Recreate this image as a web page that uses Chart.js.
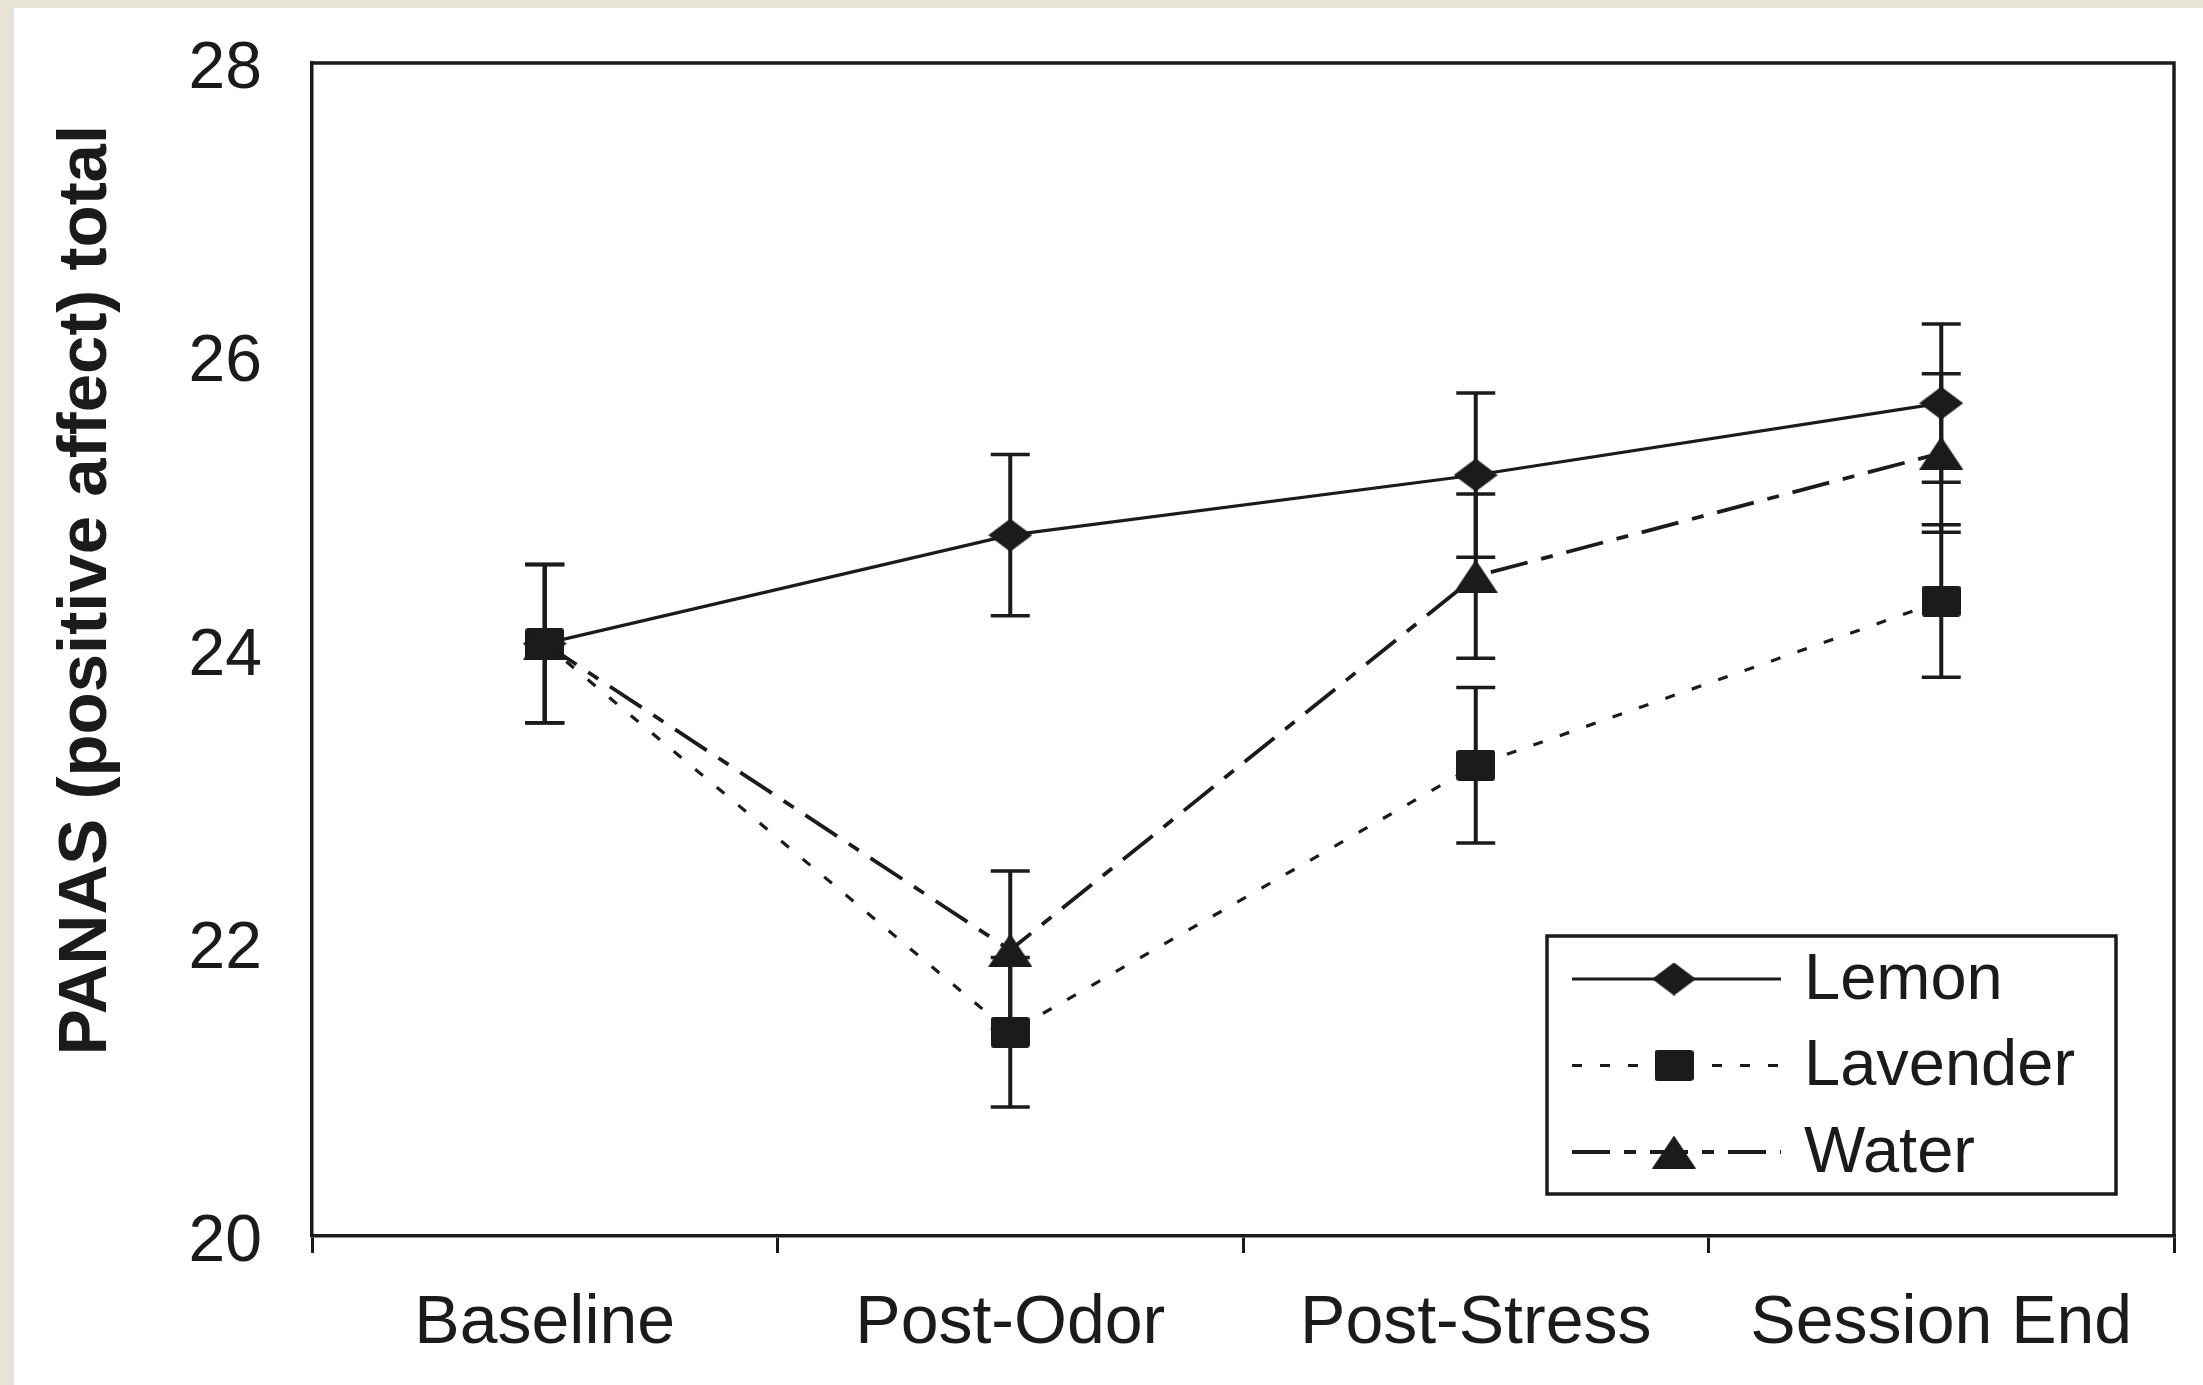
<!DOCTYPE html>
<html>
<head>
<meta charset="utf-8">
<title>PANAS positive affect</title>
<script src="https://cdn.jsdelivr.net/npm/chart.js@4"></script>
<style>
    html, body { margin: 0; padding: 0; }
    body { width: 2203px; height: 1385px; background: #e7e3d7; position: relative; overflow: hidden; }
    #sheet { position: absolute; left: 14px; top: 8px; width: 2189px; height: 1377px; background: #fff; }
    #chart { display: block; }
</style>
</head>
<body>
<div id="sheet"><canvas id="chart" width="2189" height="1377"></canvas></div>
<script>
const categories = ['Baseline', 'Post-Odor', 'Post-Stress', 'Session End'];

const lemonMeans = [24.04, 24.78, 25.19, 25.68];
const lemonErr = [0.54, 0.55, 0.56, 0.54];

const lavenderMeans = [24.04, 21.39, 23.21, 24.33];
const lavenderErr = [0.54, 0.51, 0.53, 0.52];

const waterMeans = [24.04, 21.95, 24.50, 25.34];
const waterErr = [0.54, 0.54, 0.56, 0.54];

const yTicks = [20, 22, 24, 26, 28];
const yTitle = 'PANAS (positive affect) total';

const ink = '#1b1b1b';
const font = "'Liberation Sans', Arial, sans-serif";

// little filled markers, a bit wider than tall like the original plot symbols
function makeMarker(w, h, shape) {
    const c = document.createElement('canvas');
    c.width = w;
    c.height = h;
    const g = c.getContext('2d');
    g.fillStyle = ink;
    g.beginPath();
    shape(g, w, h);
    g.fill();
    return c;
}

const diamond = makeMarker(44, 33, (g, w, h) => {
    g.moveTo(0, h / 2); g.lineTo(w / 2, 0); g.lineTo(w, h / 2); g.lineTo(w / 2, h); g.closePath();
});
const square = makeMarker(39, 31, (g, w, h) => {
    g.roundRect(0, 0, w, h, 3);
});
const triangle = makeMarker(44, 33, (g, w, h) => {
    g.moveTo(w / 2, 0); g.lineTo(w, h); g.lineTo(0, h); g.closePath();
});

function series(label, data, err, marker, dash, width) {
    return {
        label: label,
        data: data,
        errors: err,
        borderColor: ink,
        backgroundColor: ink,
        borderWidth: width,
        borderDash: dash,
        pointStyle: marker,
        pointRadius: 20,
        pointHoverRadius: 20,
        tension: 0,
        clip: false
    };
}

// error bars, drawn from the y scale
const errorBars = {
    id: 'errorBars',
    beforeDatasetsDraw(chart) {
        const ctx = chart.ctx;
        const y = chart.scales.y;
        ctx.save();
        ctx.strokeStyle = ink;
        ctx.lineCap = 'butt';
        chart.data.datasets.forEach((ds, di) => {
            const meta = chart.getDatasetMeta(di);
            meta.data.forEach((pt, i) => {
                const top = y.getPixelForValue(ds.data[i] + ds.errors[i]);
                const bot = y.getPixelForValue(ds.data[i] - ds.errors[i]);
                ctx.lineWidth = 4;
                ctx.beginPath();
                ctx.moveTo(pt.x, top);
                ctx.lineTo(pt.x, bot);
                ctx.stroke();
                ctx.lineWidth = 3.5;
                ctx.beginPath();
                ctx.moveTo(pt.x - 19.5, top);
                ctx.lineTo(pt.x + 19.5, top);
                ctx.moveTo(pt.x - 19.5, bot);
                ctx.lineTo(pt.x + 19.5, bot);
                ctx.stroke();
            });
        });
        ctx.restore();
    }
};

// top and right sides of the plot frame
const frame = {
    id: 'frame',
    afterDraw(chart) {
        const {ctx, chartArea: a} = chart;
        ctx.save();
        ctx.strokeStyle = ink;
        ctx.lineWidth = 3.5;
        ctx.beginPath();
        ctx.moveTo(a.left, a.top);
        ctx.lineTo(a.right, a.top);
        ctx.lineTo(a.right, a.bottom);
        ctx.stroke();
        ctx.restore();
    }
};

// rotated axis title, sitting a little above centre
const axisTitle = {
    id: 'axisTitle',
    afterDraw(chart) {
        const ctx = chart.ctx;
        ctx.save();
        ctx.fillStyle = ink;
        ctx.font = 'bold 69px ' + font;
        ctx.translate(92, 582);
        ctx.rotate(-Math.PI / 2);
        ctx.textAlign = 'center';
        ctx.textBaseline = 'alphabetic';
        ctx.fillText(yTitle, 0, 0);
        ctx.restore();
    }
};

// boxed legend inside the plot with line + marker samples
const boxLegend = {
    id: 'boxLegend',
    afterDraw(chart) {
        const ctx = chart.ctx;
        const box = {x: 1533, y: 928, w: 569, h: 258};
        ctx.save();
        ctx.fillStyle = '#fff';
        ctx.fillRect(box.x, box.y, box.w, box.h);
        ctx.strokeStyle = ink;
        ctx.lineWidth = 3.5;
        ctx.strokeRect(box.x, box.y, box.w, box.h);

        chart.data.datasets.forEach((ds, i) => {
            const cy = 971 + i * 86.5;
            ctx.lineWidth = ds.borderWidth;
            ctx.setLineDash(ds.borderDash);
            ctx.beginPath();
            ctx.moveTo(1558, cy);
            ctx.lineTo(1767, cy);
            ctx.stroke();
            ctx.setLineDash([]);
            const m = ds.pointStyle;
            ctx.drawImage(m, 1660 - m.width / 2, cy - m.height / 2);
            ctx.fillStyle = ink;
            ctx.font = '65px ' + font;
            ctx.textAlign = 'left';
            ctx.textBaseline = 'middle';
            ctx.fillText(ds.label, 1790, cy + 2);
        });
        ctx.restore();
    }
};

const ctx = document.getElementById('chart').getContext('2d');
new Chart(ctx, {
    type: 'line',
    data: {
        labels: categories,
        datasets: [
            series('Lemon', lemonMeans, lemonErr, diamond, [], 3.2),
            series('Lavender', lavenderMeans, lavenderErr, square, [10, 18], 3.2),
            series('Water', waterMeans, waterErr, triangle, [38, 14, 12, 14], 3.8)
        ]
    },
    options: {
        responsive: false,
        animation: false,
        devicePixelRatio: 1,
        layout: { padding: { top: 55, right: 29, bottom: 0, left: 0 } },
        plugins: {
            legend: { display: false },
            tooltip: { enabled: false }
        },
        scales: {
            x: {
                offset: true,
                afterFit(scale) { scale.height = 149; },
                grid: {
                    display: true,
                    offset: true,
                    drawOnChartArea: false,
                    drawTicks: true,
                    tickLength: 17,
                    color: ink,
                    lineWidth: 3
                },
                border: { display: true, color: ink, width: 3.5 },
                ticks: {
                    color: ink,
                    padding: 30,
                    maxRotation: 0,
                    autoSkip: false,
                    font: { family: font, size: 68 }
                }
            },
            y: {
                min: yTicks[0],
                max: yTicks[yTicks.length - 1],
                afterFit(scale) {
                    scale.width = 298;
                    // label overhang would otherwise push the plot top down
                    scale.paddingTop = 0;
                    scale.paddingBottom = 0;
                },
                afterBuildTicks(scale) { scale.ticks = yTicks.map(v => ({ value: v })); },
                grid: { display: false, drawTicks: false },
                border: { display: true, color: ink, width: 3.5 },
                ticks: {
                    color: ink,
                    padding: 50,
                    labelOffset: 7,
                    font: { family: font, size: 66 }
                }
            }
        }
    },
    plugins: [errorBars, frame, axisTitle, boxLegend]
});
</script>
</body>
</html>
